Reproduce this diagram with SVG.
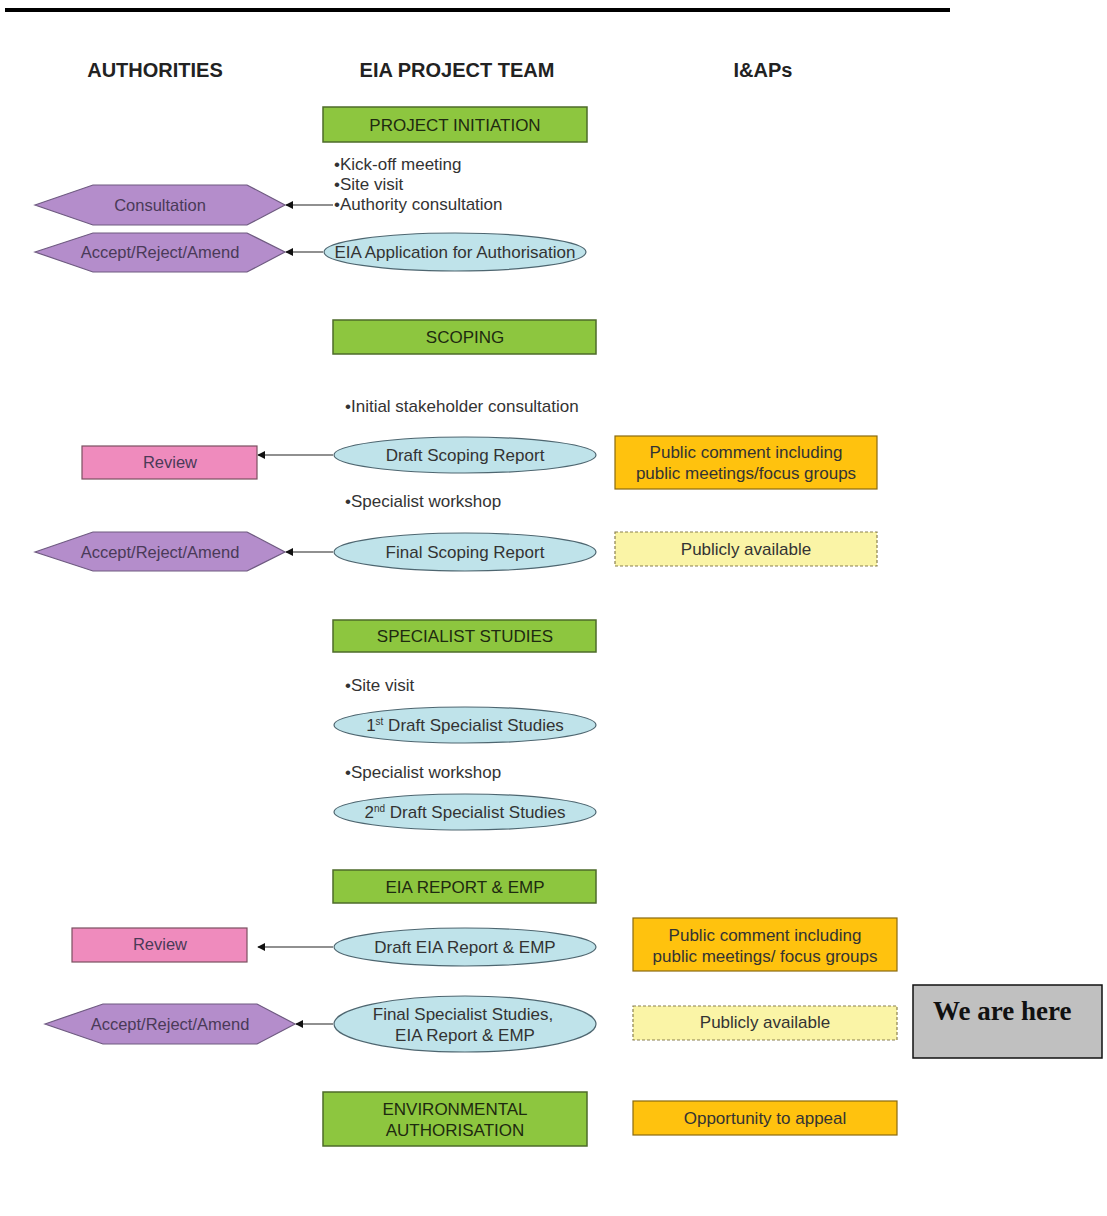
<svg xmlns="http://www.w3.org/2000/svg" width="1107" height="1216" viewBox="0 0 1107 1216">
<defs>
<marker id="arr" viewBox="0 0 10 10" refX="9" refY="5" markerWidth="8" markerHeight="8" orient="auto-start-reverse" markerUnits="userSpaceOnUse">
<path d="M0,0 L10,5 L0,10 z" fill="#111"/>
</marker>
<style>
.hdr{font-family:"Liberation Sans",Arial,sans-serif;font-weight:bold;font-size:20px;fill:#222;text-anchor:middle}
.t{font-family:"Liberation Sans",Arial,sans-serif;font-size:17px;fill:#333}
.c{text-anchor:middle}
.g{fill:#8dc63f;stroke:#4d6b2a;stroke-width:1.5}
.gt{font-family:"Liberation Sans",Arial,sans-serif;font-size:17px;fill:#1e2a10;text-anchor:middle}
.hex{fill:#b48dcb;stroke:#6e5a80;stroke-width:1.2}
.ht{font-family:"Liberation Sans",Arial,sans-serif;font-size:16.5px;fill:#4a3a58;text-anchor:middle}
.ell{fill:#bfe3ea;stroke:#4e6670;stroke-width:1.2}
.pink{fill:#ef8bbd;stroke:#7a5060;stroke-width:1.2}
.orange{fill:#ffc20e;stroke:#8a6a10;stroke-width:1.2}
.yel{fill:#faf4a6;stroke:#8a8050;stroke-width:1.2;stroke-dasharray:3 2}
.line{stroke:#222;stroke-width:1.2;fill:none}
</style>
</defs>
<rect x="5" y="8" width="945" height="4" fill="#000"/>
<text class="hdr" x="155" y="77">AUTHORITIES</text>
<text class="hdr" x="457" y="77">EIA PROJECT TEAM</text>
<text class="hdr" x="763" y="77">I&amp;APs</text>

<g id="connectors">
<line class="line" x1="333" y1="205" x2="286" y2="205" marker-end="url(#arr)"/>
<line class="line" x1="323" y1="252" x2="286" y2="252" marker-end="url(#arr)"/>
<line class="line" x1="333" y1="455" x2="258" y2="455" marker-end="url(#arr)"/>
<line class="line" x1="333" y1="552" x2="286" y2="552" marker-end="url(#arr)"/>
<line class="line" x1="333" y1="947" x2="258" y2="947" marker-end="url(#arr)"/>
<line class="line" x1="333" y1="1024" x2="296" y2="1024" marker-end="url(#arr)"/>
</g>

<g id="project-initiation"><rect class="g" x="323" y="107" width="264" height="35"/><text class="gt" x="455" y="131">PROJECT INITIATION</text></g>
<g id="bullets-initiation">
<text class="t" x="334" y="170">•Kick-off meeting</text>
<text class="t" x="334" y="190">•Site visit</text>
<text class="t" x="334" y="210">•Authority consultation</text>
</g>
<g id="consultation"><polygon class="hex" points="35,205 93,185 247,185 285,205 247,225 93,225"/><text class="ht" x="160" y="211">Consultation</text></g>
<g id="accept1"><polygon class="hex" points="35,252 93,233 247,233 285,252 247,272 93,272"/><text class="ht" x="160" y="258">Accept/Reject/Amend</text></g>
<g id="eia-application"><ellipse class="ell" cx="455" cy="252" rx="131" ry="19"/><text class="t c" x="455" y="258">EIA Application for Authorisation</text></g>

<g id="scoping"><rect class="g" x="333" y="320" width="263" height="34"/><text class="gt" x="465" y="343">SCOPING</text></g>
<text class="t" x="345" y="412">•Initial stakeholder consultation</text>
<g id="review1"><rect class="pink" x="82" y="446" width="175" height="33"/><text class="ht" x="170" y="468">Review</text></g>
<g id="draft-scoping"><ellipse class="ell" cx="465" cy="455" rx="131" ry="18"/><text class="t c" x="465" y="461">Draft Scoping Report</text></g>
<g id="public-comment1"><rect class="orange" x="615" y="436" width="262" height="53"/><text class="t c" x="746" y="458">Public comment including</text><text class="t c" x="746" y="479">public meetings/focus groups</text></g>
<text class="t" x="345" y="507">•Specialist workshop</text>
<g id="accept2"><polygon class="hex" points="35,552 93,532 247,532 285,552 247,571 93,571"/><text class="ht" x="160" y="558">Accept/Reject/Amend</text></g>
<g id="final-scoping"><ellipse class="ell" cx="465" cy="552" rx="131" ry="19"/><text class="t c" x="465" y="558">Final Scoping Report</text></g>
<g id="publicly1"><rect class="yel" x="615" y="532" width="262" height="34"/><text class="t c" x="746" y="555">Publicly available</text></g>

<g id="specialist-studies"><rect class="g" x="333" y="620" width="263" height="32"/><text class="gt" x="465" y="642">SPECIALIST STUDIES</text></g>
<text class="t" x="345" y="691">•Site visit</text>
<g id="draft1-specialist"><ellipse class="ell" cx="465" cy="725" rx="131" ry="18"/><text class="t c" x="465" y="731">1<tspan font-size="10" dy="-6">st</tspan><tspan dy="6"> Draft Specialist Studies</tspan></text></g>
<text class="t" x="345" y="778">•Specialist workshop</text>
<g id="draft2-specialist"><ellipse class="ell" cx="465" cy="812" rx="131" ry="18"/><text class="t c" x="465" y="818">2<tspan font-size="10" dy="-6">nd</tspan><tspan dy="6"> Draft Specialist Studies</tspan></text></g>

<g id="eia-report"><rect class="g" x="333" y="870" width="263" height="33"/><text class="gt" x="465" y="893">EIA REPORT &amp; EMP</text></g>
<g id="review2"><rect class="pink" x="72" y="928" width="175" height="34"/><text class="ht" x="160" y="950">Review</text></g>
<g id="draft-eia"><ellipse class="ell" cx="465" cy="947" rx="131" ry="19"/><text class="t c" x="465" y="953">Draft EIA Report &amp; EMP</text></g>
<g id="public-comment2"><rect class="orange" x="633" y="918" width="264" height="53"/><text class="t c" x="765" y="941">Public comment including</text><text class="t c" x="765" y="962">public meetings/ focus groups</text></g>
<g id="accept3"><polygon class="hex" points="45,1024 103,1004 257,1004 295,1024 257,1044 103,1044"/><text class="ht" x="170" y="1030">Accept/Reject/Amend</text></g>
<g id="final-specialist"><ellipse class="ell" cx="465" cy="1024" rx="131" ry="28"/><text class="t c" x="463" y="1020">Final Specialist Studies,</text><text class="t c" x="465" y="1041">EIA Report &amp; EMP</text></g>
<g id="publicly2"><rect class="yel" x="633" y="1006" width="264" height="34"/><text class="t c" x="765" y="1028">Publicly available</text></g>
<g id="we-are-here"><rect x="913" y="985" width="189" height="73" fill="#c0c0c0" stroke="#111" stroke-width="1.5"/><text x="933" y="1020" font-family="'Liberation Serif','Times New Roman',serif" font-weight="bold" font-size="27" fill="#111">We are here</text></g>

<g id="environmental-authorisation"><rect class="g" x="323" y="1092" width="264" height="54"/><text class="gt" x="455" y="1115">ENVIRONMENTAL</text><text class="gt" x="455" y="1136">AUTHORISATION</text></g>
<g id="appeal"><rect class="orange" x="633" y="1101" width="264" height="34"/><text class="t c" x="765" y="1124">Opportunity to appeal</text></g>
</svg>
